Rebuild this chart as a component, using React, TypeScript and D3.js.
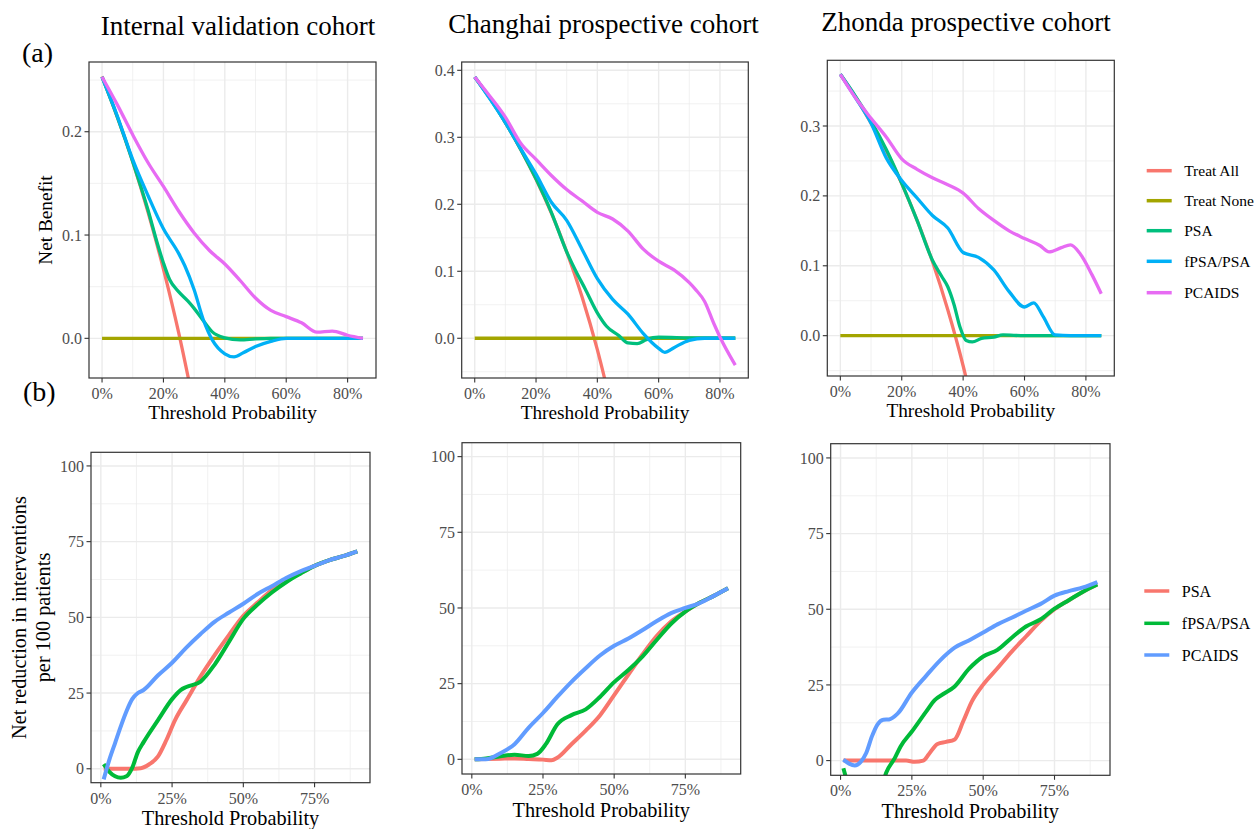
import React from 'react';
import * as d3 from 'd3';

type Pt = [number, number];

// (a) net benefit curves, threshold -> net benefit
const intTreatAll: Pt[] = [[0, .2535], [.05, .214], [.1, .171], [.15, .122], [.2, .067], [.25, .005], [.3, -.066]];
const intTreatNone: Pt[] = [[0, 0], [.85, 0]];
const intPSA: Pt[] = [[0, .253], [.05, .214], [.1, .171], [.15, .124], [.18, .092], [.2, .073], [.22, .057], [.25, .045], [.28, .036], [.3, .029], [.33, .017], [.36, .006], [.4, .0005], [.45, -.0015], [.5, -.0005], [.55, 0], [.85, 0]];
const intFPSA: Pt[] = [[0, .253], [.05, .215], [.1, .173], [.15, .138], [.2, .106], [.25, .082], [.27, .07], [.3, .047], [.33, .018], [.36, -.002], [.4, -.015], [.43, -.018], [.46, -.014], [.5, -.008], [.55, -.003], [.6, 0], [.85, 0]];
const intPCAIDS: Pt[] = [[0, .253], [.05, .226], [.1, .197], [.15, .17], [.2, .147], [.25, .123], [.3, .102], [.35, .085], [.4, .072], [.45, .056], [.5, .039], [.55, .027], [.6, .021], [.65, .015], [.7, .006], [.75, .007], [.8, .003], [.85, 0]];

const chTreatAll: Pt[] = [[0, .39], [.05, .358], [.1, .322], [.15, .282], [.2, .2375], [.25, .187], [.3, .129], [.35, .062], [.4, -.017], [.45, -.11]];
const chTreatNone: Pt[] = [[0, 0], [.85, 0]];
const chPSA: Pt[] = [[0, .39], [.05, .358], [.1, .322], [.15, .282], [.2, .238], [.25, .188], [.3, .129], [.33, .1], [.36, .074], [.4, .038], [.43, .018], [.47, .004], [.5, -.007], [.53, -.008], [.56, -.002], [.6, .0015], [.7, .0005], [.85, 0]];
const chFPSA: Pt[] = [[0, .39], [.05, .357], [.1, .322], [.15, .283], [.2, .245], [.25, .203], [.3, .176], [.35, .133], [.4, .089], [.45, .058], [.5, .036], [.55, .007], [.6, -.015], [.62, -.021], [.65, -.014], [.7, -.003], [.75, 0], [.85, 0]];
const chPCAIDS: Pt[] = [[0, .39], [.05, .361], [.1, .33], [.15, .291], [.2, .267], [.25, .243], [.3, .222], [.35, .205], [.4, .188], [.45, .178], [.5, .16], [.55, .133], [.6, .115], [.65, .102], [.7, .083], [.72, .073], [.75, .055], [.78, .022], [.8, .002], [.85, -.04]];

const zdTreatAll: Pt[] = [[0, .374], [.05, .341], [.1, .304], [.15, .264], [.2, .2175], [.25, .165], [.3, .106], [.35, .037], [.4, -.043], [.45, -.138]];
const zdTreatNone: Pt[] = [[0, 0], [.85, 0]];
const zdPSA: Pt[] = [[0, .374], [.05, .342], [.1, .307], [.15, .266], [.2, .218], [.25, .165], [.3, .108], [.33, .085], [.35, .07], [.37, .045], [.39, .012], [.41, -.007], [.43, -.009], [.46, -.004], [.5, -.002], [.53, .001], [.6, 0], [.85, 0]];
const zdFPSA: Pt[] = [[0, .374], [.05, .34], [.1, .304], [.15, .254], [.2, .222], [.25, .197], [.3, .172], [.35, .154], [.4, .119], [.45, .112], [.5, .094], [.55, .063], [.6, .041], [.63, .047], [.66, .028], [.7, .001], [.75, 0], [.85, 0]];
const zdPCAIDS: Pt[] = [[0, .374], [.05, .34], [.1, .311], [.15, .284], [.2, .253], [.25, .238], [.3, .226], [.35, .216], [.4, .204], [.45, .182], [.5, .165], [.55, .15], [.6, .139], [.65, .129], [.68, .12], [.72, .126], [.75, .13], [.78, .118], [.82, .087], [.85, .06]];

// (b) net reduction in interventions per 100 patients
const intRedPSA: Pt[] = [[.01, 0], [.05, 0], [.1, 0], [.14, .2], [.17, 1.5], [.2, 4], [.23, 9.5], [.26, 16], [.3, 22.5], [.35, 30.5], [.4, 37.6], [.45, 44.2], [.5, 50.5], [.55, 54.9], [.6, 59], [.65, 62.2], [.7, 64.6], [.75, 67], [.8, 68.8], [.85, 70.2], [.9, 71.8]];
const intRedFPSA: Pt[] = [[.01, 1.5], [.03, -1], [.05, -2.5], [.07, -3], [.09, -2.5], [.11, .3], [.13, 5.5], [.15, 8.8], [.2, 16], [.25, 23], [.28, 26], [.3, 27], [.35, 28.8], [.4, 34.5], [.45, 42], [.5, 49.5], [.55, 54.2], [.6, 58.2], [.65, 61.6], [.7, 64.4], [.75, 67], [.8, 68.8], [.85, 70.2], [.9, 71.8]];
const intRedPCAIDS: Pt[] = [[.01, -3.5], [.03, 3], [.05, 8.5], [.07, 14], [.09, 19], [.11, 23], [.13, 25], [.15, 26], [.2, 30.8], [.25, 35], [.3, 40], [.35, 44.5], [.4, 48.6], [.45, 51.6], [.5, 54.5], [.55, 57.7], [.6, 60.3], [.65, 63], [.7, 65.2], [.75, 67], [.8, 68.8], [.85, 70.2], [.9, 71.8]];

const chRedPSA: Pt[] = [[.01, 0], [.1, .2], [.15, .3], [.2, .1], [.25, -.1], [.28, -.3], [.3, .5], [.35, 5], [.4, 9.5], [.45, 14.5], [.5, 21.2], [.55, 28], [.6, 34.7], [.65, 40.8], [.7, 45.5], [.75, 48.8], [.8, 51.7], [.85, 54], [.9, 56.5]];
const chRedFPSA: Pt[] = [[.01, 0], [.05, .3], [.1, 1], [.15, 1.5], [.2, 1.1], [.23, 1.8], [.26, 5], [.3, 11.5], [.35, 14.6], [.4, 16.5], [.45, 20.6], [.5, 25.5], [.55, 29.5], [.6, 34], [.65, 39.5], [.7, 44.8], [.75, 48.8], [.8, 51.7], [.85, 54], [.9, 56.5]];
const chRedPCAIDS: Pt[] = [[.01, 0], [.05, 0], [.1, 2], [.15, 5], [.2, 10.5], [.25, 15.3], [.3, 20.6], [.35, 25.6], [.4, 30.1], [.45, 34.3], [.5, 37.5], [.55, 39.9], [.6, 42.7], [.65, 45.7], [.7, 48.3], [.75, 50], [.8, 51.6], [.85, 54], [.9, 56.5]];

const zdRedPSA: Pt[] = [[.01, 0], [.1, 0], [.2, 0], [.23, 0], [.26, -.4], [.29, 0], [.31, 2.2], [.34, 5.5], [.37, 6.2], [.4, 7], [.43, 13], [.46, 19.5], [.5, 25.1], [.55, 30.5], [.6, 36], [.65, 41], [.7, 46], [.75, 50], [.8, 53], [.85, 55.8], [.9, 58.2]];
const zdRedFPSA: Pt[] = [[.01, -2.5], [.02, -6], [.05, -15], [.1, -18], [.14, -10], [.16, -4], [.19, .8], [.21, 4.6], [.25, 9.6], [.3, 16.2], [.33, 20], [.36, 22], [.4, 24.5], [.45, 30.3], [.5, 34.4], [.55, 36.6], [.6, 40.6], [.65, 44.3], [.7, 46.6], [.75, 50.2], [.8, 53], [.85, 55.8], [.9, 58.2]];
const zdRedPCAIDS: Pt[] = [[.01, .3], [.03, -1], [.05, -1.6], [.07, -.5], [.09, 2.5], [.11, 8], [.13, 12], [.15, 13.5], [.17, 13.6], [.2, 15.5], [.25, 22.5], [.3, 28], [.35, 33.2], [.4, 37.3], [.45, 39.7], [.5, 42.3], [.55, 45], [.6, 47.2], [.65, 49.5], [.7, 51.7], [.75, 54.5], [.8, 56], [.85, 57.2], [.9, 59]];

const nbLabels = ['Treat All', 'Treat None', 'PSA', 'fPSA/PSA', 'PCAIDS'];
const nbColors = ['#F8766D', '#A3A500', '#00BF7D', '#00B0F6', '#E76BF3'];
const redLabels = ['PSA', 'fPSA/PSA', 'PCAIDS'];
const redColors = ['#F8766D', '#00BA38', '#619CFF'];

const FONT = '"Liberation Serif", "Times New Roman", serif';

interface PanelProps {
  id: string;
  left: number; right: number; top: number; bottom: number;
  xDomain: [number, number]; yDomain: [number, number];
  xTicks: number[]; xMinor: number[];
  yTicks: number[]; yMinor: number[];
  yFmt: (v: number) => string;
  series: Pt[][]; colors: string[]; lw: number;
}

const Panel = (p: PanelProps) => {
  const x = d3.scaleLinear().domain(p.xDomain).range([p.left, p.right]);
  const y = d3.scaleLinear().domain(p.yDomain).range([p.bottom, p.top]);
  const line = d3.line<Pt>().x(d => x(d[0])).y(d => y(d[1])).curve(d3.curveMonotoneX);
  const xFmt = d3.format('.0%');
  return (
    <g>
      <defs>
        <clipPath id={p.id}>
          <rect x={p.left} y={p.top} width={p.right - p.left} height={p.bottom - p.top} />
        </clipPath>
      </defs>
      {p.xMinor.map(t => <line key={'xm' + t} x1={x(t)} x2={x(t)} y1={p.top} y2={p.bottom} stroke="#EBEBEB" strokeWidth={0.7} />)}
      {p.yMinor.map(t => <line key={'ym' + t} x1={p.left} x2={p.right} y1={y(t)} y2={y(t)} stroke="#EBEBEB" strokeWidth={0.7} />)}
      {p.xTicks.map(t => <line key={'xg' + t} x1={x(t)} x2={x(t)} y1={p.top} y2={p.bottom} stroke="#EBEBEB" strokeWidth={1.4} />)}
      {p.yTicks.map(t => <line key={'yg' + t} x1={p.left} x2={p.right} y1={y(t)} y2={y(t)} stroke="#EBEBEB" strokeWidth={1.4} />)}
      <g clipPath={`url(#${p.id})`}>
        {p.series.map((s, i) => (
          <path key={i} d={line(s) || ''} fill="none" stroke={p.colors[i]} strokeWidth={p.lw} strokeLinejoin="round" />
        ))}
      </g>
      <rect x={p.left} y={p.top} width={p.right - p.left} height={p.bottom - p.top} fill="none" stroke="#333333" strokeWidth={1.2} />
      {p.xTicks.map(t => (
        <g key={'xt' + t}>
          <line x1={x(t)} x2={x(t)} y1={p.bottom} y2={p.bottom + 4.5} stroke="#333333" strokeWidth={1.1} />
          <text x={x(t)} y={p.bottom + 21} textAnchor="middle" fontSize={16} fill="#4D4D4D" fontFamily={FONT}>{xFmt(t)}</text>
        </g>
      ))}
      {p.yTicks.map(t => (
        <g key={'yt' + t}>
          <line x1={p.left - 4.5} x2={p.left} y1={y(t)} y2={y(t)} stroke="#333333" strokeWidth={1.1} />
          <text x={p.left - 7} y={y(t)} dy="0.35em" textAnchor="end" fontSize={16} fill="#4D4D4D" fontFamily={FONT}>{p.yFmt(t)}</text>
        </g>
      ))}
    </g>
  );
};

const Legend = ({ x, ys, labels, colors, size }: { x: number; ys: number[]; labels: string[]; colors: string[]; size: number }) => (
  <g>
    {labels.map((l, i) => (
      <g key={l}>
        <line x1={x} x2={x + 25} y1={ys[i]} y2={ys[i]} stroke={colors[i]} strokeWidth={3.5} />
        <text x={x + 37.5} y={ys[i]} dy="0.35em" fontSize={size} fontFamily={FONT} fill="#000">{l}</text>
      </g>
    ))}
  </g>
);

export default function App() {
  const topX: [number, number] = [-0.0425, 0.8925];
  const botX: [number, number] = [-0.0345, 0.9445];
  const topXT = [0, .2, .4, .6, .8];
  const topXM = [.1, .3, .5, .7];
  const botXT = [0, .25, .5, .75];
  const botXM = [.125, .375, .625, .875];
  const botYT = [0, 25, 50, 75, 100];
  const botYM = [12.5, 37.5, 62.5, 87.5];
  const f1 = d3.format('.1f');
  const f0 = (v: number) => String(v);
  return (
    <svg width={1255} height={829} style={{ position: 'absolute', left: 0, top: 0, background: '#fff' }} fontFamily={FONT}>
      <rect width={1255} height={829} fill="#fff" />
      <text x={238} y={34.5} textAnchor="middle" fontSize={27}>Internal validation cohort</text>
      <text x={603.5} y={33.3} textAnchor="middle" fontSize={27}>Changhai prospective cohort</text>
      <text x={966} y={30.7} textAnchor="middle" fontSize={27}>Zhonda prospective cohort</text>
      <text x={22} y={61.5} fontSize={28}>(a)</text>
      <text x={23} y={400.5} fontSize={28}>(b)</text>

      <Panel id="c1" left={89} right={376} top={62} bottom={378} xDomain={topX} yDomain={[-0.0384, 0.2675]}
        xTicks={topXT} xMinor={topXM} yTicks={[0, .1, .2]} yMinor={[.05, .15, .25]} yFmt={f1}
        series={[intTreatAll, intTreatNone, intPSA, intFPSA, intPCAIDS]} colors={nbColors} lw={3.3} />
      <Panel id="c2" left={461.7} right={748.3} top={62} bottom={378} xDomain={topX} yDomain={[-0.0593, 0.4124]}
        xTicks={topXT} xMinor={topXM} yTicks={[0, .1, .2, .3, .4]} yMinor={[-.05, .05, .15, .25, .35]} yFmt={f1}
        series={[chTreatAll, chTreatNone, chPSA, chFPSA, chPCAIDS]} colors={nbColors} lw={3.3} />
      <Panel id="c3" left={827.3} right={1114.3} top={60.3} bottom={376} xDomain={topX} yDomain={[-0.0577, 0.394]}
        xTicks={topXT} xMinor={topXM} yTicks={[0, .1, .2, .3]} yMinor={[-.05, .05, .15, .25, .35]} yFmt={f1}
        series={[zdTreatAll, zdTreatNone, zdPSA, zdFPSA, zdPCAIDS]} colors={nbColors} lw={3.3} />

      <Panel id="c4" left={91} right={370} top={452.3} bottom={782.7} xDomain={botX} yDomain={[-4.6, 104.5]}
        xTicks={botXT} xMinor={botXM} yTicks={botYT} yMinor={botYM} yFmt={f0}
        series={[intRedPSA, intRedFPSA, intRedPCAIDS]} colors={redColors} lw={4} />
      <Panel id="c5" left={462} right={740.7} top={442.7} bottom={774} xDomain={botX} yDomain={[-4.85, 104.6]}
        xTicks={botXT} xMinor={botXM} yTicks={botYT} yMinor={botYM} yFmt={f0}
        series={[chRedPSA, chRedFPSA, chRedPCAIDS]} colors={redColors} lw={4} />
      <Panel id="c6" left={830.7} right={1110} top={443.7} bottom={775.3} xDomain={botX} yDomain={[-4.86, 104.7]}
        xTicks={botXT} xMinor={botXM} yTicks={botYT} yMinor={botYM} yFmt={f0}
        series={[zdRedPSA, zdRedFPSA, zdRedPCAIDS]} colors={redColors} lw={4} />

      <text x={232.5} y={419} textAnchor="middle" fontSize={19.3}>Threshold Probability</text>
      <text x={605} y={419} textAnchor="middle" fontSize={19.3}>Threshold Probability</text>
      <text x={970.8} y={417} textAnchor="middle" fontSize={19.3}>Threshold Probability</text>
      <text x={230.5} y={825} textAnchor="middle" fontSize={20.3}>Threshold Probability</text>
      <text x={601.3} y={817} textAnchor="middle" fontSize={20.3}>Threshold Probability</text>
      <text x={970.3} y={818} textAnchor="middle" fontSize={20.3}>Threshold Probability</text>

      <text transform="translate(45,220) rotate(-90)" dy="0.35em" textAnchor="middle" fontSize={19.3}>Net Benefit</text>
      <text transform="translate(19,617.5) rotate(-90)" dy="0.35em" textAnchor="middle" fontSize={20.3}>Net reduction in interventions</text>
      <text transform="translate(43,617.5) rotate(-90)" dy="0.35em" textAnchor="middle" fontSize={20.3}>per 100 patients</text>

      <Legend x={1146.7} ys={[170.7, 200.7, 230.7, 261.3, 292.7]} labels={nbLabels} colors={nbColors} size={15.5} />
      <Legend x={1144.3} ys={[591, 623.3, 655]} labels={redLabels} colors={redColors} size={16} />
    </svg>
  );
}
